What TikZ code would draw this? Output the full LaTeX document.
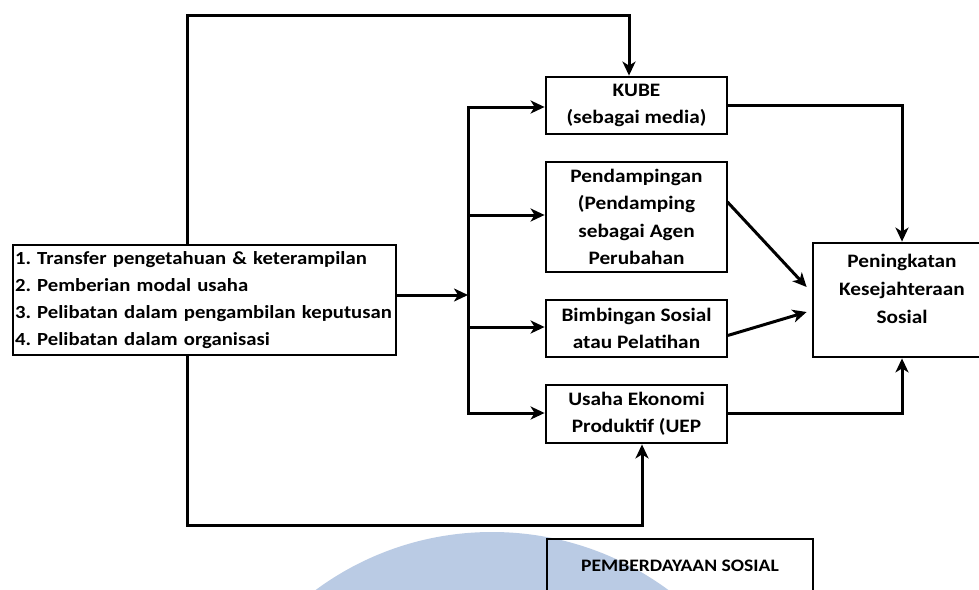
\documentclass[tikz,border=0pt]{standalone}
\usepackage{fontspec}
\setmainfont{Carlito}[FakeStretch=1.12]
\usetikzlibrary{arrows.meta,calc}
\definecolor{wmblue}{RGB}{186,203,228}
\frenchspacing
\tikzset{
  box/.style={draw=black, line width=2.8pt, rectangle, inner sep=2pt,
    align=center, font=\bfseries\fontsize{19}{27.5}\selectfont},
  conn/.style={line width=3pt, line cap=rect},
  arr/.style={conn, -{Stealth[length=14pt,width=13pt,inset=4pt]}}
}
\begin{document}
\begin{tikzpicture}[x=1pt,y=-1pt]
\clip (0,0) rectangle (979,589);
\fill[white] (0,0) rectangle (979,589);
% pale round emblem behind the lower part
\fill[wmblue] (492,829) circle (297);

% boxes
\node[box, minimum width=383, minimum height=110, align=left, text width=379,
  inner xsep=1pt, font=\bfseries\fontsize{18.5}{27}\selectfont]
  (lb) at (204.5,300) {1. Transfer pengetahuan \& keterampilan\\2. Pemberian modal usaha\\3. Pelibatan dalam pengambilan keputusan\\4. Pelibatan dalam organisasi};
\node[box, minimum width=181, minimum height=57] (kube) at (636.5,105.5) {KUBE\\(sebagai media)};
\node[box, minimum width=181, minimum height=110] (pend) at (636.5,217) {Pendampingan\\(Pendamping\\sebagai Agen\\Perubahan};
\node[box, minimum width=181, minimum height=57] (bimb) at (636.5,328.5) {Bimbingan Sosial\\atau Pelatihan};
\node[box, minimum width=181, minimum height=58] (uep) at (636.5,414) {Usaha Ekonomi\\Produktif (UEP};
\node[box, minimum width=178, minimum height=114] (pk) at (902,300) {};
\node[font=\bfseries\fontsize{19}{28}\selectfont, align=center, anchor=north, inner sep=0pt]
  (pktext) at ($(pk.north)+(0,12)$) {Peningkatan\\Kesejahteraan\\Sosial};
\node[box, minimum width=266, minimum height=54, font=\bfseries\fontsize{17.5}{20}\selectfont]
  (pem) at (680,566) {PEMBERDAYAAN SOSIAL};

% distribution bus
\coordinate (bus) at (468,300);
\draw[arr] ($(lb.east)+(0,-5)$) -- ($(lb.east -| bus)+(0,-5)$);
\draw[conn] ($(kube.west -| bus)+(0,1.5)$) -- ($(uep.west -| bus)+(0,-1)$);
\draw[arr] ($(kube.west -| bus)+(0,1.5)$) -- ($(kube.west)+(0,1.5)$);
\draw[arr] ($(pend.west -| bus)+(0,-2)$) -- ($(pend.west)+(0,-2)$);
\draw[arr] ($(bimb.west -| bus)+(0,-1.5)$) -- ($(bimb.west)+(0,-1.5)$);
\draw[arr] ($(uep.west -| bus)+(0,-1)$) -- ($(uep.west)+(0,-1)$);

% loops from the left box
\draw[arr] (lb.north -| 187,0) -- (187,15) -| ($(kube.north)+(-7.5,0)$);
\draw[arr] (lb.south -| 187,0) -- (187,525) -| ($(uep.south)+(5.5,0)$);

% into the outcome box
\draw[arr] (kube.east) -| (pk.north);
\draw[arr] ($(uep.east)+(0,-1)$) -| (pk.south);
\draw[arr] ($(pend.east)+(0,-14)$) -- ($(pk.west)+(-5,-13)$);
\draw[arr] ($(bimb.east)+(1,6.5)$) -- ($(pk.west)+(-5,12)$);
\end{tikzpicture}
\end{document}
